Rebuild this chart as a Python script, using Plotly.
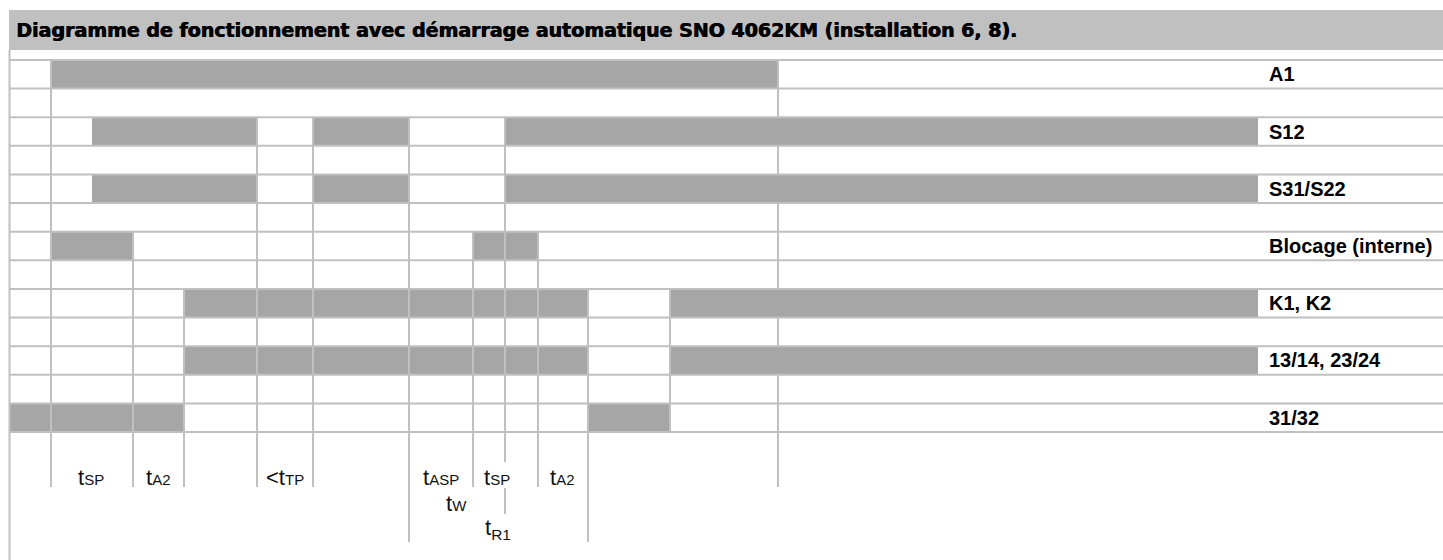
import plotly.graph_objects as go

# ---------------- data ----------------
title_text = "Diagramme de fonctionnement avec démarrage automatique SNO 4062KM (installation 6, 8)."

signal_names = ["A1", "S12", "S31/S22", "Blocage (interne)", "K1, K2", "13/14, 23/24", "31/32"]
signal_rows = [0, 2, 4, 6, 8, 10, 12]
n_rows = 13

# ON intervals (start, end) on the time axis
a1_on = [(51, 778)]
s12_on = [(92, 257), (313, 409), (505, 1258)]
s31_on = [(92, 257), (313, 409), (505, 1258)]
blocage_on = [(51, 133), (473, 538)]
k1_on = [(184, 588), (670, 1258)]
c1314_on = [(184, 588), (670, 1258)]
c3132_on = [(10, 184), (588, 670)]
signal_on = [a1_on, s12_on, s31_on, blocage_on, k1_on, c1314_on, c3132_on]

# time marks (cell borders) in each of the 13 rows
marks_a = [51, 778]
marks_b = [51, 257, 313, 409, 505]
marks_b2 = [51, 257, 313, 409, 505, 778]
marks_c = [51, 133, 257, 313, 409, 473, 505, 538, 778]
marks_d = [51, 133, 184, 257, 313, 409, 473, 505, 538, 588, 670]
marks_d2 = [51, 133, 184, 257, 313, 409, 473, 505, 538, 588, 670, 778]
row_marks = [marks_a, marks_a, marks_b, marks_b2, marks_b, marks_b2,
             marks_c, marks_c, marks_d, marks_d2, marks_d, marks_d2, marks_d2]

t_start, t_end = 10, 1443

# timing annotation marks below the diagram: (time, from_px, to_px)
timing_marks = [(51, 432, 487), (133, 432, 487), (184, 432, 487), (257, 432, 487),
                (313, 432, 487), (409, 432, 542), (473, 432, 487), (505, 432, 462),
                (505, 488, 514), (538, 432, 487), (588, 432, 542), (778, 432, 487)]

SUB = '<span style="font-size:15px">{}</span>'
timing_labels = [
    ("t" + SUB.format("SP"), 91, 477),
    ("t" + SUB.format("A2"), 158, 477),
    ("&lt;t" + SUB.format("TP"), 285, 477),
    ("t" + SUB.format("ASP"), 441, 477),
    ("t" + SUB.format("SP"), 497, 477),
    ("t" + SUB.format("A2"), 562, 477),
    ("t" + SUB.format("W"), 456, 503),
    ("t<sub>R1</sub>", 498, 529),
]

# ---------------- styling ----------------
W, H = 1443, 560
top_px, bottom_px = 60, 432
row_h = (bottom_px - top_px) / n_rows
ON = "#a6a6a6"
GRID = "#c0c0c0"


def yrow(px):
    return (px - top_px) / row_h


fig = go.Figure()

# gray ON bars
for name, r, intervals in zip(signal_names, signal_rows, signal_on):
    fig.add_trace(go.Bar(
        y=[r + 0.5] * len(intervals),
        x=[e - s for s, e in intervals],
        base=[s for s, e in intervals],
        orientation="h", width=1,
        marker=dict(color=ON, line=dict(width=0)),
        hoverinfo="skip", showlegend=False, name=name,
    ))

# grid lines
gx, gy = [], []
for i in range(n_rows + 1):
    gx += [t_start, t_end, None]
    gy += [i, i, None]
for i, marks in enumerate(row_marks):
    for m in marks:
        gx += [m, m, None]
        gy += [i, i + 1, None]
for m, p0, p1 in timing_marks:
    gx += [m, m, None]
    gy += [yrow(p0), yrow(p1), None]
# left border
gx += [t_start - 0.5, t_start - 0.5, None]
gy += [yrow(50), yrow(H), None]
fig.add_trace(go.Scatter(x=gx, y=gy, mode="lines",
                         line=dict(color=GRID, width=2),
                         hoverinfo="skip", showlegend=False))

annotations = []
for name, r in zip(signal_names, signal_rows):
    annotations.append(dict(
        x=1267, y=r + 0.5, xref="x", yref="y", text=name, showarrow=False,
        xanchor="left", yanchor="middle",
        font=dict(family="Liberation Sans, Arial", size=20, color="#000000", weight="bold")))
for txt, x, ypx in timing_labels:
    annotations.append(dict(
        x=x, y=yrow(ypx), xref="x", yref="y", text=txt, showarrow=False,
        xanchor="center", yanchor="middle",
        font=dict(family="Liberation Sans, Arial", size=22, color="#111111")))
annotations.append(dict(
    x=14, y=yrow(30), xref="x", yref="y", text=title_text, showarrow=False,
    xanchor="left", yanchor="middle",
    font=dict(family="DejaVu Sans", size=19, color="#000000", weight="bold",
              shadow="0.8px 0px 0px #000000")))

fig.update_layout(
    width=W, height=H,
    margin=dict(l=0, r=0, t=0, b=0),
    paper_bgcolor="#ffffff", plot_bgcolor="#ffffff",
    barmode="overlay", bargap=0,
    xaxis=dict(range=[0, W], visible=False, fixedrange=True),
    yaxis=dict(range=[yrow(H), yrow(0)], visible=False, fixedrange=True),
    shapes=[dict(type="rect", xref="x", yref="y", x0=9, x1=W,
                 y0=yrow(10), y1=yrow(50), fillcolor=GRID, line=dict(width=0),
                 layer="below")],
    annotations=annotations,
)

fig.write_html("out.html", config={"displayModeBar": False, "staticPlot": True},
               post_script="document.body.style.margin='0';document.body.style.overflow='hidden';")
